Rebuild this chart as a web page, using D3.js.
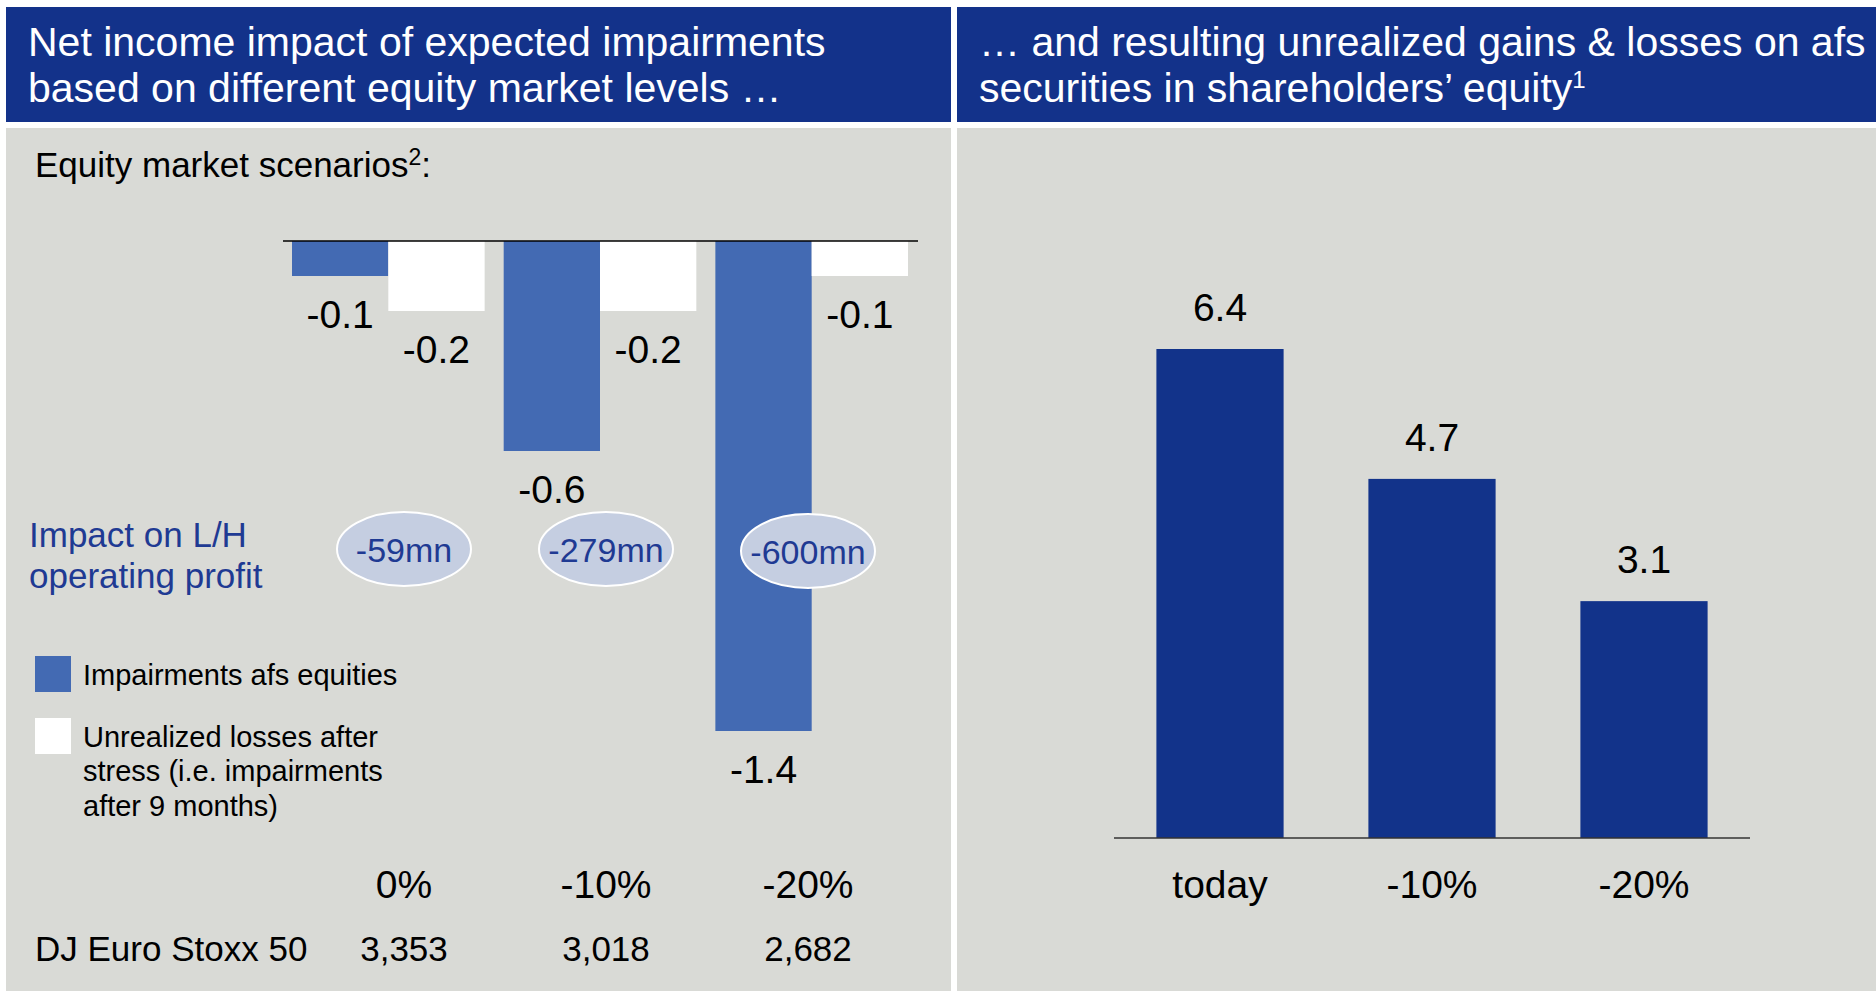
<!DOCTYPE html>
<meta charset="utf-8">
<style>
body {
  margin: 0;
  background-color: #fff;
}
text {
  font-family: "Liberation Sans", Arial, sans-serif;
}
.header text {
  fill: #fff;
  font-size: 41px;
}
.panel {
  fill: #D9DAD6;
}
.bar-label {
  font-size: 39px;
  fill: #000;
  text-anchor: middle;
}
.cat-label {
  font-size: 39px;
  fill: #000;
  text-anchor: middle;
}
.legend text {
  font-size: 29px;
}
</style>
<body>
<svg width="1876" height="991"></svg>
<script src="https://cdn.jsdelivr.net/npm/d3@7"></script>
<script>
// left chart data
var scenarios = ["0%", "-10%", "-20%"];
var impairments = [-0.1, -0.6, -1.4];
var unrealized = [-0.2, -0.2, -0.1];
var opProfit = ["-59mn", "-279mn", "-600mn"];
var stoxx = ["3,353", "3,018", "2,682"];

// right chart data
var afsCats = ["today", "-10%", "-20%"];
var afsValues = [6.4, 4.7, 3.1];

var headerBlue = "#13328A",
    barBlue = "#436AB3",
    darkBar = "#12338A",
    textBlue = "#1F3A93";

var svg = d3.select("svg");

// panels
var head = svg.append("g").attr("class", "header");
head.append("rect").attr("x", 6).attr("y", 7).attr("width", 945).attr("height", 115).attr("fill", headerBlue);
head.append("rect").attr("x", 957).attr("y", 7).attr("width", 919).attr("height", 115).attr("fill", headerBlue);
svg.append("rect").attr("class", "panel").attr("x", 6).attr("y", 128).attr("width", 945).attr("height", 863);
svg.append("rect").attr("class", "panel").attr("x", 957).attr("y", 128).attr("width", 919).attr("height", 863);

head.append("text").attr("x", 28).attr("y", 56).text("Net income impact of expected impairments");
head.append("text").attr("x", 28).attr("y", 102).text("based on different equity market levels \u2026");
head.append("text").attr("x", 979).attr("y", 56).text("\u2026 and resulting unrealized gains & losses on afs");
var h2 = head.append("text").attr("x", 979).attr("y", 102).text("securities in shareholders\u2019 equity");
h2.append("tspan").attr("font-size", "24px").attr("dy", -14).text("1");

// ---- left chart ----
var x0 = d3.scaleBand()
    .domain(scenarios)
    .range([292, 908])
    .paddingInner(0.09);

var x1 = d3.scaleBand()
    .domain(["imp", "unr"])
    .range([0, x0.bandwidth()]);

var y = d3.scaleLinear()
    .domain([0, -1.4])
    .range([241, 731]);

// label row positions (ellipses, scenario labels, index levels)
var xl = d3.scalePoint()
    .domain(scenarios)
    .range([404, 808]);

var title = svg.append("text")
    .attr("x", 35)
    .attr("y", 177)
    .attr("font-size", "35px")
    .text("Equity market scenarios");
title.append("tspan").attr("font-size", "23px").attr("dy", -12).text("2");
title.append("tspan").attr("dy", 12).text(":");

var groups = scenarios.map(function(s, i) {
  return [
    {scen: s, key: "imp", value: impairments[i]},
    {scen: s, key: "unr", value: unrealized[i]}
  ];
});
var bars = [].concat.apply([], groups);

var g = svg.append("g");

g.selectAll(".bar")
    .data(bars)
  .enter().append("rect")
    .attr("class", "bar")
    .attr("x", function(d) { return x0(d.scen) + x1(d.key); })
    .attr("y", y(0))
    .attr("width", x1.bandwidth())
    .attr("height", function(d) { return y(d.value) - y(0); })
    .attr("fill", function(d) { return d.key == "imp" ? barBlue : "#fff"; });

g.append("line")
    .attr("x1", 283)
    .attr("x2", 918)
    .attr("y1", y(0))
    .attr("y2", y(0))
    .attr("stroke", "#000")
    .attr("stroke-width", 1.5);

g.selectAll(".bar-label")
    .data(bars)
  .enter().append("text")
    .attr("class", "bar-label")
    .attr("x", function(d) { return x0(d.scen) + x1(d.key) + x1.bandwidth() / 2; })
    .attr("y", function(d) { return y(d.value) + 52; })
    .text(function(d) { return d3.format(".1f")(d.value).replace("\u2212", "-"); });

// L/H operating profit impact
var imp = svg.append("text")
    .attr("x", 29)
    .attr("y", 547)
    .attr("font-size", "35px")
    .attr("fill", textBlue);
imp.append("tspan").attr("x", 29).text("Impact on L/H");
imp.append("tspan").attr("x", 29).attr("dy", 41).text("operating profit");

var ell = g.selectAll(".op")
    .data(scenarios)
  .enter().append("g")
    .attr("class", "op")
    .attr("transform", function(d, i) { return "translate(" + xl(d) + "," + (i == 2 ? 551 : 549) + ")"; });

ell.append("ellipse")
    .attr("rx", 67)
    .attr("ry", 37)
    .attr("fill", "#C5CEE1")
    .attr("stroke", "#fff")
    .attr("stroke-width", 2);

ell.append("text")
    .attr("text-anchor", "middle")
    .attr("y", 13)
    .attr("font-size", "34px")
    .attr("fill", textBlue)
    .text(function(d, i) { return opProfit[i]; });

// legend
var legend = svg.append("g").attr("class", "legend");
legend.append("rect").attr("x", 35).attr("y", 656).attr("width", 36).attr("height", 36).attr("fill", barBlue);
legend.append("rect").attr("x", 35).attr("y", 718).attr("width", 36).attr("height", 36).attr("fill", "#fff");
legend.append("text").attr("x", 83).attr("y", 685).text("Impairments afs equities");
var lt = legend.append("text").attr("x", 83).attr("y", 747);
lt.append("tspan").attr("x", 83).text("Unrealized losses after");
lt.append("tspan").attr("x", 83).attr("dy", 34.3).text("stress (i.e. impairments");
lt.append("tspan").attr("x", 83).attr("dy", 34.3).text("after 9 months)");

// scenario labels and index level
g.selectAll(".cat-label")
    .data(scenarios)
  .enter().append("text")
    .attr("class", "cat-label")
    .attr("x", function(d) { return xl(d); })
    .attr("y", 898)
    .text(function(d) { return d; });

svg.append("text")
    .attr("x", 35)
    .attr("y", 961)
    .attr("font-size", "35px")
    .text("DJ Euro Stoxx 50");

g.selectAll(".stoxx")
    .data(scenarios)
  .enter().append("text")
    .attr("class", "stoxx")
    .attr("x", function(d) { return xl(d); })
    .attr("y", 961)
    .attr("font-size", "35px")
    .attr("text-anchor", "middle")
    .text(function(d, i) { return stoxx[i]; });

// ---- right chart ----
var xr = d3.scaleBand()
    .domain(afsCats)
    .range([1114, 1750])
    .paddingInner(0.4)
    .paddingOuter(0.2);

var yr = d3.scaleLinear()
    .domain([0, 6.4])
    .range([838, 349]);

var r = svg.append("g");

r.selectAll(".afs")
    .data(afsValues)
  .enter().append("rect")
    .attr("class", "afs")
    .attr("x", function(d, i) { return xr(afsCats[i]); })
    .attr("y", function(d) { return yr(d); })
    .attr("width", xr.bandwidth())
    .attr("height", function(d) { return yr(0) - yr(d); })
    .attr("fill", darkBar);

r.append("line")
    .attr("x1", 1114)
    .attr("x2", 1750)
    .attr("y1", yr(0))
    .attr("y2", yr(0))
    .attr("stroke", "#333")
    .attr("stroke-width", 1.5);

r.selectAll(".bar-label")
    .data(afsValues)
  .enter().append("text")
    .attr("class", "bar-label")
    .attr("x", function(d, i) { return xr(afsCats[i]) + xr.bandwidth() / 2; })
    .attr("y", function(d) { return yr(d) - 28; })
    .text(function(d) { return d3.format(".1f")(d); });

r.selectAll(".cat-label")
    .data(afsCats)
  .enter().append("text")
    .attr("class", "cat-label")
    .attr("x", function(d) { return xr(d) + xr.bandwidth() / 2; })
    .attr("y", 898)
    .text(function(d) { return d; });
</script>
